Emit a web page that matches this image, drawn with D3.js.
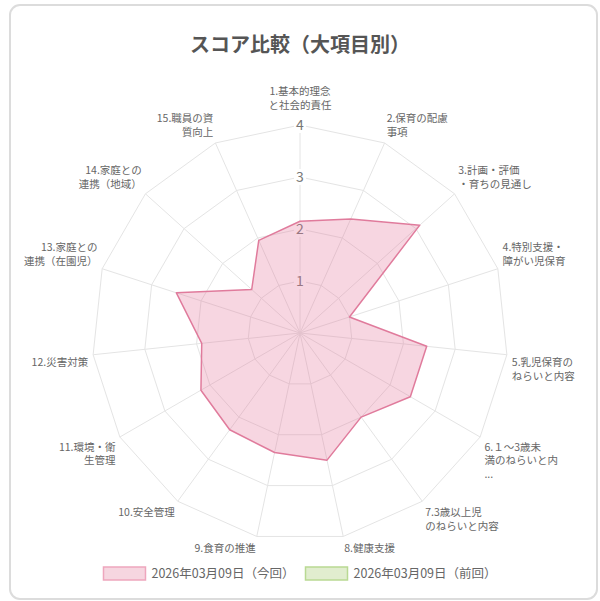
<!DOCTYPE html>
<html>
<head>
<meta charset="utf-8">
<script src="https://cdn.jsdelivr.net/npm/d3@7"></script>
<style>
    body { margin: 0; background: #fff; }
    svg { display: block; font-family: "Noto Sans CJK JP", "Noto Sans", sans-serif; }
</style>
</head>
<body>
<div id="chart"></div>
<script>
// axis labels, already wrapped the way the original chart shows them
const axisLabels = [
    ["1.基本的理念", "と社会的責任"],
    ["2.保育の配慮", "事項"],
    ["3.計画・評価", "・育ちの見通し"],
    ["4.特別支援・", "障がい児保育"],
    ["5.乳児保育の", "ねらいと内容"],
    ["6.１～3歳未", "満のねらいと内", "..."],
    ["7.3歳以上児", "のねらいと内容"],
    ["8.健康支援"],
    ["9.食育の推進"],
    ["10.安全管理"],
    ["11.環境・衛", "生管理"],
    ["12.災害対策"],
    ["13.家庭との", "連携（在園児）"],
    ["14.家庭との", "連携（地域）"],
    ["15.職員の資", "質向上"]
];

const currentValues = [2.15, 2.4, 3.1, 1.0, 2.45, 2.45, 2.0, 2.5, 2.35, 2.3, 2.2, 1.9, 2.5, 1.25, 1.95];
const previousValues = []; // 前回: no points drawn

const tickValues = [1, 2, 3, 4];
const maxValue = 4;

const seriesNames = ["2026年03月09日（今回）", "2026年03月09日（前回）"];
const seriesData = [currentValues, previousValues];

const titleText = "スコア比較（大項目別）";

class RadarVis {
    constructor(parentElement) {
        this.parentElement = parentElement;
        this.colors = [
            {fill: "rgba(228, 120, 156, 0.3)", stroke: "#e07b9c", box: "#f6d6e0", boxStroke: "#eea6bd"},
            {fill: "rgba(160, 205, 110, 0.3)", stroke: "#a9d07e", box: "#e1edcf", boxStroke: "#b9d993"}
        ];
        this.initVis();
    }

    initVis() {
        let vis = this;

        vis.width = 600;
        vis.height = 601;
        vis.cx = 300;
        vis.cy = 333;
        vis.radius = 208;

        vis.svg = d3.select("#" + vis.parentElement).append("svg")
            .attr("width", vis.width)
            .attr("height", vis.height);

        // card frame
        vis.svg.append("rect")
            .attr("x", 10)
            .attr("y", 5)
            .attr("width", 587)
            .attr("height", 594)
            .attr("rx", 10)
            .attr("fill", "none")
            .attr("stroke", "#dcdcdc")
            .attr("stroke-width", 2);

        vis.svg.append("text")
            .attr("x", vis.cx)
            .attr("y", 52)
            .attr("text-anchor", "middle")
            .attr("font-size", 20)
            .attr("font-weight", "bold")
            .attr("fill", "#555")
            .text(titleText);

        vis.r = d3.scaleLinear().domain([0, maxValue]).range([0, vis.radius]);
        vis.angle = d3.scaleLinear().domain([0, axisLabels.length]).range([0, 2 * Math.PI]);

        vis.chartGroup = vis.svg.append("g")
            .attr("transform", `translate(${vis.cx}, ${vis.cy})`);

        vis.drawGrid();
        vis.drawSeries();
        vis.drawLegend();
    }

    drawGrid() {
        let vis = this;
        let n = axisLabels.length;

        let ring = d3.lineRadial()
            .angle((d, i) => vis.angle(i))
            .radius(d => vis.r(d))
            .curve(d3.curveLinearClosed);

        vis.chartGroup.selectAll(".ring")
            .data(tickValues)
            .join("path")
            .attr("class", "ring")
            .attr("d", t => ring(d3.range(n).map(() => t)))
            .attr("fill", "none")
            .attr("stroke", "#e4e4e4")
            .attr("stroke-width", 1);

        vis.chartGroup.selectAll(".spoke")
            .data(d3.range(n))
            .join("line")
            .attr("class", "spoke")
            .attr("x1", 0)
            .attr("y1", 0)
            .attr("x2", i => Math.sin(vis.angle(i)) * vis.r(maxValue))
            .attr("y2", i => -Math.cos(vis.angle(i)) * vis.r(maxValue))
            .attr("stroke", "#e4e4e4")
            .attr("stroke-width", 1);

        // tick labels with a small white backdrop
        let tickGroup = vis.chartGroup.selectAll(".tick-label")
            .data(tickValues)
            .join("g")
            .attr("class", "tick-label")
            .attr("transform", t => `translate(0, ${-vis.r(t)})`);

        tickGroup.append("rect")
            .attr("x", -6)
            .attr("y", -8)
            .attr("width", 12)
            .attr("height", 16)
            .attr("fill", "#fff");

        tickGroup.append("text")
            .attr("text-anchor", "middle")
            .attr("y", 5)
            .attr("font-size", 14)
            .attr("fill", "#777")
            .text(t => t);

        // point labels
        let fontSize = 10.5;
        let lineH = 13.5;
        let pad = 5;

        axisLabels.forEach((lines, i) => {
            let a = vis.angle(i);
            let deg = Math.round(a * 180 / Math.PI);
            let dist = vis.r(maxValue) + pad + (i === 0 ? 9 : 0);
            let x = Math.sin(a) * dist;
            let y = -Math.cos(a) * dist;
            let h = lines.length * lineH;

            let anchor = (deg === 0 || deg === 180) ? "middle" : (deg < 180 ? "start" : "end");
            if (deg === 90 || deg === 270) {
                y -= h / 2;
            } else if (deg > 270 || deg < 90) {
                y -= h;
            }

            vis.chartGroup.append("text")
                .attr("class", "point-label")
                .attr("text-anchor", anchor)
                .attr("font-size", fontSize)
                .attr("fill", "#666")
                .selectAll("tspan")
                .data(lines)
                .join("tspan")
                .attr("x", x)
                .attr("y", (d, k) => y + k * lineH + 11)
                .text(d => d);
        });
    }

    drawSeries() {
        let vis = this;

        let shape = d3.lineRadial()
            .angle((d, i) => vis.angle(i))
            .radius(d => vis.r(d))
            .curve(d3.curveLinearClosed);

        // draw previous first so the current one sits on top
        [1, 0].forEach(s => {
            let values = seriesData[s];
            if (!values.length) return;
            vis.chartGroup.append("path")
                .datum(values)
                .attr("d", shape)
                .attr("fill", vis.colors[s].fill)
                .attr("stroke", vis.colors[s].stroke)
                .attr("stroke-width", 1.5)
                .attr("stroke-linejoin", "round");
        });
    }

    drawLegend() {
        let vis = this;

        let legendGroup = vis.svg.append("g")
            .attr("class", "legend-group")
            .attr("transform", "translate(0, 567)");

        let boxW = 42, boxH = 13, gapText = 6, gapItem = 11;
        let items = [];

        seriesNames.forEach((name, i) => {
            let g = legendGroup.append("g");
            g.append("rect")
                .attr("x", 0)
                .attr("y", 0)
                .attr("width", boxW)
                .attr("height", boxH)
                .attr("fill", vis.colors[i].box)
                .attr("stroke", vis.colors[i].boxStroke)
                .attr("stroke-width", 1.5);
            let t = g.append("text")
                .attr("x", boxW + gapText)
                .attr("y", 11)
                .attr("font-size", 12.5)
                .attr("fill", "#666")
                .text(name);
            items.push({g, w: boxW + gapText + t.node().getComputedTextLength()});
        });

        let total = d3.sum(items, d => d.w) + gapItem * (items.length - 1);
        let xPos = vis.cx - total / 2;
        items.forEach(d => {
            d.g.attr("transform", `translate(${xPos}, 0)`);
            xPos += d.w + gapItem;
        });
    }
}

new RadarVis("chart");
</script>
</body>
</html>
